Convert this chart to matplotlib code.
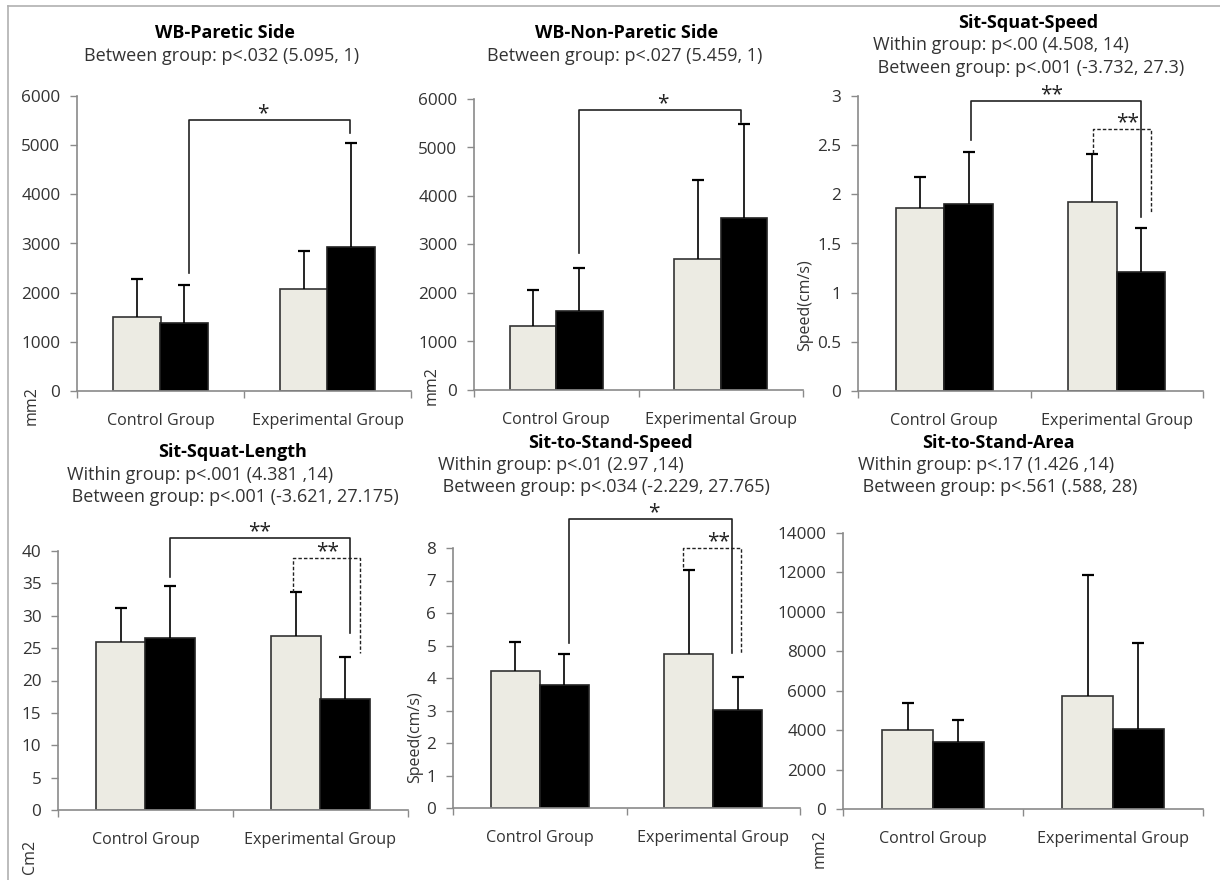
import matplotlib
matplotlib.use("Agg")
import matplotlib.pyplot as plt
from matplotlib.lines import Line2D

# ---------------- data ----------------
groups = ["Control Group", "Experimental Group"]

titles = ["WB-Paretic Side", "WB-Non-Paretic Side", "Sit-Squat-Speed",
          "Sit-Squat-Length", "Sit-to-Stand-Speed", "Sit-to-Stand-Area"]
subtitles = [
    ["Between group: p<.032 (5.095, 1)"],
    ["Between group: p<.027 (5.459, 1)"],
    ["Within group: p<.00 (4.508, 14)", " Between group: p<.001 (-3.732, 27.3)"],
    ["Within group: p<.001 (4.381 ,14)", " Between group: p<.001 (-3.621, 27.175)"],
    ["Within group: p<.01 (2.97 ,14)", " Between group: p<.034 (-2.229, 27.765)"],
    ["Within group: p<.17 (1.426 ,14)", " Between group: p<.561 (.588, 28)"],
]
ylabels = ["mm2", "mm2", "Speed(cm/s)", "Cm2", "Speed(cm/s)", "mm2"]

# means (light = pre, black = post) and upward SD
light_mean = [[1500, 2080], [1310, 2710], [1.86, 1.92], [26.0, 26.8], [4.22, 4.73], [4010, 5730]]
light_sd = [[770, 770], [760, 1630], [0.32, 0.49], [5.2, 6.9], [0.88, 2.59], [1370, 6140]]
black_mean = [[1380, 2930], [1620, 3540], [1.90, 1.21], [26.6, 17.1], [3.78, 3.02], [3400, 4060]]
black_sd = [[770, 2120], [890, 1940], [0.53, 0.45], [8.0, 6.5], [0.96, 1.01], [1120, 4360]]

y_max = [6000, 6000, 3, 40, 8, 14000]
y_step = [1000, 1000, 0.5, 5, 1, 2000]

# significance brackets: (x_left, x_right, y_left, y_top, y_right, label, dashed, star_x)
brackets = [
    [(0.17, 1.135, 2400, 5512, 5248, "*", False, 0.61)],
    [(0.138, 1.123, 2825, 5773, 5526, "*", False, 0.65)],
    [(0.155, 1.14, 2.55, 2.95, 1.77, "**", False, 0.62),
     (0.862, 1.199, 2.42, 2.66, 1.81, "**", True, 1.06)],
    [(0.14, 1.169, 36.0, 42.0, 27.3, "**", False, 0.65),
     (0.843, 1.226, 33.7, 38.9, 24.2, "**", True, 1.04)],
    [(0.169, 1.108, 5.08, 8.89, 4.77, "*", False, 0.66),
     (0.826, 1.16, 7.42, 8.0, 4.74, "**", True, 1.03)],
    [],
]

# ---------------- layout (pixels) ----------------
W, H = 1220, 880
axes_px = [(77, 411, 96, 391), (474, 803, 99, 390), (858, 1203, 96, 391),
           (58, 408, 551, 810), (453, 800, 548, 808), (843, 1203, 533, 809)]
title_px = [(225, 33), (627, 33), (1028, 23), (233, 452), (610, 443), (998, 443)]
sub_px = [[(222, 56, "center")], [(625, 56, "center")],
          [(873, 45, "left"), (873, 68, "left")],
          [(67, 475, "left"), (67, 497, "left")],
          [(438, 465, "left"), (438, 487, "left")],
          [(858, 465, "left"), (858, 487, "left")]]
ylab_px = [(32, 406), (432, 386), (805, 305), (30, 857), (415, 737), (820, 849)]

FONT = ["Open Sans", "DejaVu Sans"]
plt.rcParams["font.family"] = FONT
AX_COL = "#8a8a8a"
TXT_COL = "#333333"
LIGHT = "#ecebe3"

fig = plt.figure(figsize=(W / 100, H / 100), dpi=100)

def fx(x):
    return x / W

def fy(y):
    return 1 - y / H

# frame lines
fig.add_artist(Line2D([fx(8), 1], [fy(6), fy(6)], color="#b0b0b0", lw=1.2))
fig.add_artist(Line2D([fx(8), fx(8)], [fy(6), 0], color="#b0b0b0", lw=1.2))

bw = 0.283
for i in range(6):
    x0, x1, yt, yb = axes_px[i]
    ax = fig.add_axes([fx(x0), fy(yb), (x1 - x0) / W, (yb - yt) / H])
    xs = [0, 1]
    xl = [x - 0.141 for x in xs]
    xb = [x + 0.141 for x in xs]
    ax.bar(xl, light_mean[i], width=bw, color=LIGHT, edgecolor="#333333", lw=1.2, zorder=2)
    ax.bar(xb, black_mean[i], width=bw, color="black", edgecolor="#222222", lw=1.2, zorder=2)
    for xx, mm, sd in zip(xl + xb, light_mean[i] + black_mean[i], light_sd[i] + black_sd[i]):
        ax.vlines(xx, mm, mm + sd, color="black", lw=1.2, zorder=3)
        ax.plot([xx], [mm + sd], marker="_", markersize=8, mew=1.6, color="black", zorder=3)

    ax.set_xlim(-0.5, 1.5)
    ax.set_ylim(0, y_max[i])
    n = int(round(y_max[i] / y_step[i]))
    ticks = [k * y_step[i] for k in range(n + 1)]
    ax.set_yticks(ticks)
    ax.set_yticklabels([("%g" % t) for t in ticks])
    ax.set_xticks(xs)
    ax.set_xticklabels(groups)
    ax.set_xticks([-0.5, 0.5, 1.5], minor=True)
    ax.tick_params(axis="x", which="major", length=0, pad=16, labelsize=11.6, labelcolor=TXT_COL)
    ax.tick_params(axis="x", which="minor", length=5, width=1, color=AX_COL, direction="out")
    ax.tick_params(axis="y", length=5, width=1, color=AX_COL, pad=7, labelsize=12.3,
                   labelcolor=TXT_COL)
    for s in ["top", "right"]:
        ax.spines[s].set_visible(False)
    for s in ["left", "bottom"]:
        ax.spines[s].set_color(AX_COL)
        ax.spines[s].set_linewidth(1.2)
    ax.set_facecolor("none")

    for (bx0, bx1, byl, byt, byr, lab, dashed, sx) in brackets[i]:
        ls = (0, (2.5, 1.5)) if dashed else "-"
        lw = 1.0 if dashed else 1.2
        ax.plot([bx0, bx0, bx1, bx1], [byl, byt, byt, byr], color="#222222", lw=lw,
                ls=ls, clip_on=False, zorder=4)
        ax.annotate(lab, (sx, byt), xytext=(0, -3), textcoords="offset points",
                    ha="center", va="bottom", fontsize=15, color="#222222",
                    annotation_clip=False)

    tx, ty = title_px[i]
    fig.text(fx(tx), fy(ty), titles[i], ha="center", va="center", fontsize=13,
             fontweight="bold", color="black")
    for (sx_, sy_, ha), line in zip(sub_px[i], subtitles[i]):
        fig.text(fx(sx_), fy(sy_), line, ha=ha, va="center", fontsize=13, color=TXT_COL)
    lx, ly = ylab_px[i]
    fig.text(fx(lx), fy(ly), ylabels[i], ha="center", va="center", rotation=90,
             fontsize=11.5, color=TXT_COL)

fig.savefig("out.png", dpi=100, facecolor="white")
